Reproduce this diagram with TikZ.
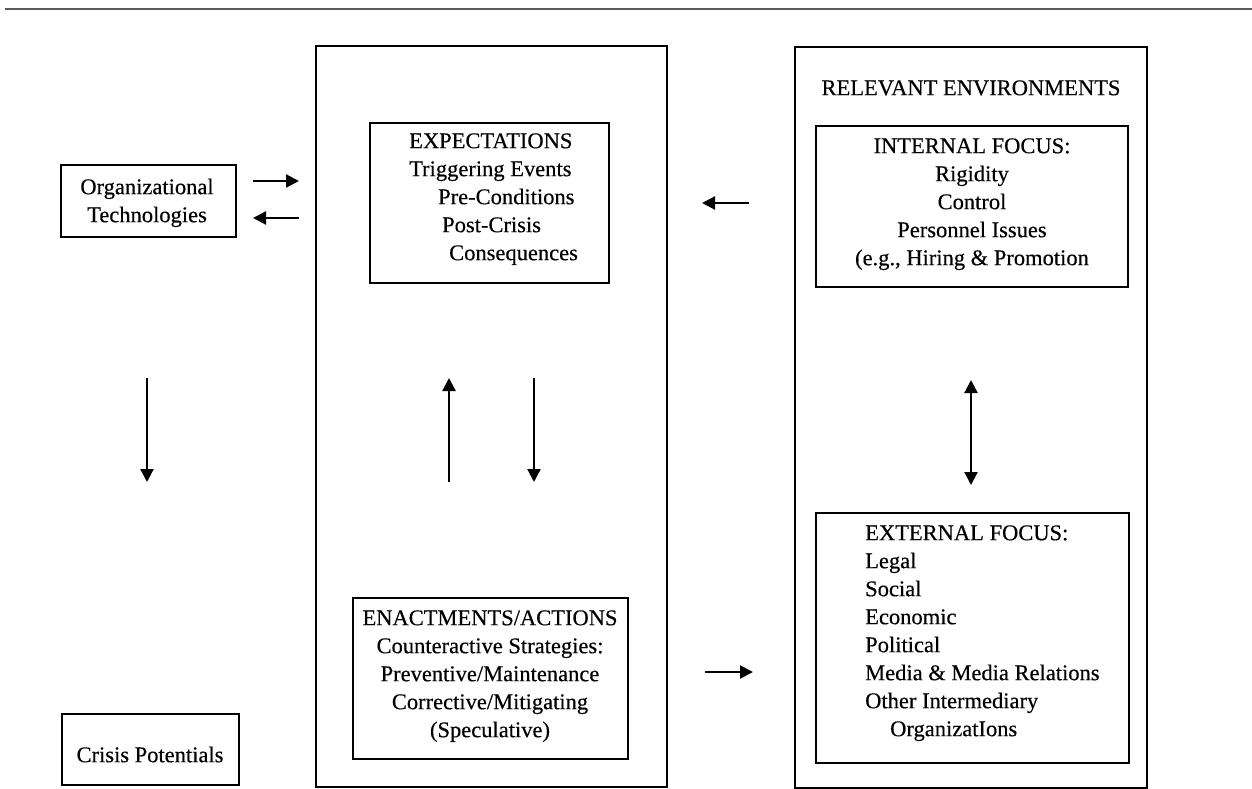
\documentclass[tikz,border=0pt]{standalone}
\usepackage{fontspec}
\setmainfont{Liberation Serif}[FakeBold=0.35]
\usetikzlibrary{arrows.meta}
\begin{document}
\begin{tikzpicture}[x=1pt,y=-1pt,
  box/.style={draw, line width=1.8pt, inner sep=0pt},
  txt/.style={inner sep=0pt, font=\fontsize{22.5}{28}\selectfont},
  arr/.style={line width=2.2pt, -{Triangle[length=13pt,width=13pt]}},
  darr/.style={line width=2.2pt, {Triangle[length=13pt,width=13pt]}-{Triangle[length=13pt,width=13pt]}}]
\useasboundingbox (0,0) rectangle (1252,789);
% top rule
\coordinate (topL) at (5,9);
\coordinate (topR) at (1252,9);
\draw[line width=1.8pt, black!65] (topL) -- (topR);

% big frames
\node[box, minimum width=351, minimum height=741] (mid) at (491.5,416.5) {};
\node[box, minimum width=352, minimum height=741] (env) at (971,417.5) {};

% boxes
\node[box, minimum width=175, minimum height=72] (org) at (148.5,201) {};
\node[box, minimum width=177, minimum height=71] (crisis) at (150.5,749.5) {};
\node[box, minimum width=239, minimum height=160] (expect) at (489.5,203) {};
\node[box, minimum width=312, minimum height=161] (internal) at (972,206.5) {};
\node[box, minimum width=275, minimum height=161] (enact) at (490.5,678.5) {};
\node[box, minimum width=313, minimum height=250] (external) at (972.5,638) {};

% texts (north = first baseline - 16)
\node[txt, anchor=north, align=center] (orgT) at (147,178) {\rule{0pt}{16pt}Organizational\\Technologies};
\node[txt, anchor=north, align=center] (crisisT) at (150,746) {\rule{0pt}{16pt}Crisis Potentials};
\node[txt, anchor=north west, align=left] (expectT) at (409,132) {\rule{0pt}{16pt}EXPECTATIONS\\Triggering Events\\\hspace*{29pt}Pre-Conditions\\\hspace*{33pt}Post-Crisis\\\hspace*{40pt}Consequences};
\node[txt, anchor=north] (relT) at (971,79) {\rule{0pt}{16pt}RELEVANT ENVIRONMENTS};
\node[txt, anchor=north, align=center] (internalT) at (972,137) {\rule{0pt}{16pt}INTERNAL FOCUS:\\Rigidity\\Control\\Personnel Issues\\(e.g., Hiring \& Promotion};
\node[txt, anchor=north, align=center] (enactT) at (490,609) {\rule{0pt}{16pt}ENACTMENTS/ACTIONS\\Counteractive Strategies:\\Preventive/Maintenance\\Corrective/Mitigating\\(Speculative)};
\node[txt, anchor=north west, align=left] (externalT) at (865,524) {\rule{0pt}{16pt}EXTERNAL FOCUS:\\Legal\\Social\\Economic\\Political\\Media \& Media Relations\\Other Intermediary\\\hspace*{25pt}OrganizatIons};

% arrow end points
\coordinate (o1s) at (253,181); \coordinate (o1e) at (299,181);
\coordinate (o2s) at (299,218); \coordinate (o2e) at (253,218);
\coordinate (e1s) at (749,203); \coordinate (e1e) at (702,203);
\coordinate (e2s) at (705,672); \coordinate (e2e) at (753,672);
\coordinate (d1s) at (147,378); \coordinate (d1e) at (147,482);
\coordinate (u1s) at (449,482); \coordinate (u1e) at (449,378);
\coordinate (d2s) at (534,378); \coordinate (d2e) at (534,482);
\coordinate (b1s) at (971,380); \coordinate (b1e) at (971,485);

\draw[arr] (o1s) -- (o1e);
\draw[arr] (o2s) -- (o2e);
\draw[arr] (e1s) -- (e1e);
\draw[arr] (e2s) -- (e2e);
\draw[arr] (d1s) -- (d1e);
\draw[arr] (u1s) -- (u1e);
\draw[arr] (d2s) -- (d2e);
\draw[darr] (b1s) -- (b1e);
\end{tikzpicture}
\end{document}
